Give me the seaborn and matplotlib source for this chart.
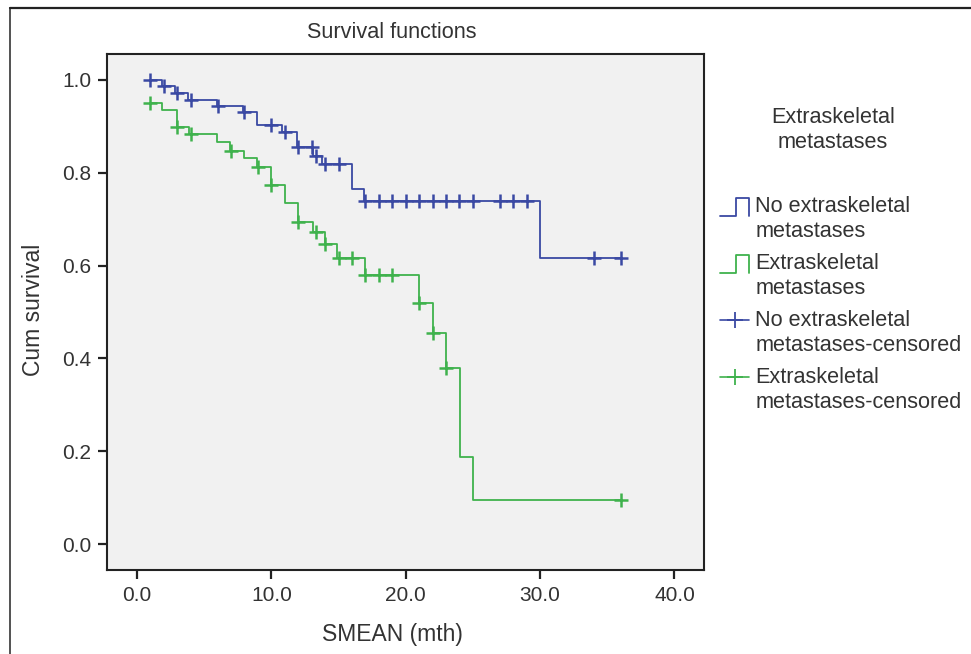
import numpy as np
import pandas as pd
import matplotlib
matplotlib.use("Agg")
import matplotlib.pyplot as plt
from matplotlib.lines import Line2D
from matplotlib.legend_handler import HandlerBase
import seaborn as sns

# ---------------- data ----------------
blue_t = [1, 1.85, 2.85, 3.8, 5.95, 7.9, 8.9, 10.8, 11.9, 13.1, 13.75, 16.0, 16.9, 30.0, 36]
blue_s = [1.0, 0.986, 0.972, 0.957, 0.945, 0.931, 0.903, 0.888, 0.855, 0.837, 0.818, 0.764, 0.740, 0.617, 0.617]
blue_cens = [1, 2, 3, 4, 6, 8, 10, 11, 12, 13, 13.3, 14, 15, 17, 18, 19, 20, 21, 22, 23, 24, 25,
             27, 28, 29, 34, 36]

green_t = [1, 1.85, 3.0, 3.9, 5.97, 6.9, 7.97, 8.9, 10.0, 11.0, 12.0, 13.1, 14.0, 14.9, 17.0,
           21.0, 22.0, 23.0, 24.05, 25.0, 36]
green_s = [0.951, 0.936, 0.898, 0.883, 0.866, 0.848, 0.832, 0.812, 0.774, 0.735, 0.695, 0.672,
           0.646, 0.616, 0.579, 0.520, 0.455, 0.380, 0.188, 0.095, 0.095]
green_cens = [1, 3, 4, 7, 9, 10, 12, 13.3, 14, 15, 16, 17, 18, 19, 21, 22, 23, 36]

group_labels = ["No extraskeletal\nmetastases", "Extraskeletal\nmetastases"]
censor_labels = ["No extraskeletal\nmetastases-censored", "Extraskeletal\nmetastases-censored"]
x_ticks = [0, 10, 20, 30, 40]
y_ticks = [0.0, 0.2, 0.4, 0.6, 0.8, 1.0]

BLUE = "#3a49a3"
GREEN = "#3fb24d"
TXT = "#333333"
FS_TEXT = 15.6
FS_AX = 16.5
FS_TICK = 15
LSP = 1.25

def censor_values(times, surv, cens):
    times = np.asarray(times)
    surv = np.asarray(surv)
    idx = np.searchsorted(times, cens, side="right") - 1
    return surv[np.clip(idx, 0, len(surv) - 1)]

curves = pd.concat([
    pd.DataFrame({"time": blue_t, "surv": blue_s, "group": group_labels[0]}),
    pd.DataFrame({"time": green_t, "surv": green_s, "group": group_labels[1]}),
])
censors = pd.concat([
    pd.DataFrame({"time": blue_cens, "surv": censor_values(blue_t, blue_s, blue_cens),
                  "group": censor_labels[0]}),
    pd.DataFrame({"time": green_cens, "surv": censor_values(green_t, green_s, green_cens),
                  "group": censor_labels[1]}),
])

# ---------------- figure ----------------
sns.set_style("white")
plt.rcParams["font.family"] = ["Liberation Sans", "DejaVu Sans"]

fig = plt.figure(figsize=(9.71, 6.54), dpi=100)
ax = fig.add_axes([107 / 971, 1 - 570 / 654, (704 - 107) / 971, (570 - 54) / 654])
ax.set_facecolor("#f1f1f1")

for g, col in zip(group_labels, [BLUE, GREEN]):
    sub = curves[curves["group"] == g]
    sns.lineplot(data=sub, x="time", y="surv", ax=ax, color=col, lw=1.3,
                 drawstyle="steps-post", estimator=None, sort=False, legend=False)
for g, col in zip(censor_labels, [BLUE, GREEN]):
    sub = censors[censors["group"] == g]
    sns.scatterplot(data=sub, x="time", y="surv", ax=ax, color=col, marker="+",
                    s=90, linewidth=1.8, legend=False, zorder=3)

ax.set_xlim(-2.23, 42.2)
ax.set_ylim(-0.056, 1.056)
ax.set_xticks(x_ticks)
ax.set_xticklabels([f"{v:.1f}" for v in x_ticks])
ax.set_yticks(y_ticks)
ax.set_yticklabels([f"{v:.1f}" for v in y_ticks])
ax.tick_params(axis="both", which="major", bottom=True, left=True, direction="out",
               length=6.5, width=1.6, color="#222222",
               labelsize=FS_TICK, labelcolor=TXT, pad=5)
for sp in ax.spines.values():
    sp.set_color("#222222")
    sp.set_linewidth(1.5)
ax.set_xlabel("")
ax.set_ylabel("")

fig.text(392 / 971, 1 - 32 / 654, "Survival functions", ha="center", va="center",
         fontsize=FS_TEXT, color=TXT)
fig.text(392 / 971, 1 - 634 / 654, "SMEAN (mth)", ha="center", va="center",
         fontsize=FS_AX, color=TXT)
fig.text(33 / 971, 1 - 310 / 654, "Cum survival", ha="center", va="center",
         rotation=90, fontsize=FS_AX, color=TXT)

# outer frame lines
fig.add_artist(Line2D([10 / 971, 10 / 971], [0, 1 - 8 / 654], transform=fig.transFigure,
                      color="#444444", lw=1.3))
fig.add_artist(Line2D([10 / 971, 1], [1 - 8 / 654, 1 - 8 / 654], transform=fig.transFigure,
                      color="#222222", lw=1.6))

SHIFT = FS_TEXT * LSP * 0.5  # move handles up to the first text line


class StepHandler(HandlerBase):
    def create_artists(self, legend, orig_handle, xdescent, ydescent, width, height,
                       fontsize, trans):
        x0, y0 = -xdescent, -ydescent + SHIFT
        lo, hi = y0 - height * 0.15, y0 + height * 1.0
        xs = [x0, x0 + width * 0.55, x0 + width * 0.55, x0 + width, x0 + width]
        ys = [lo, lo, hi, hi, lo]
        return [Line2D(xs, ys, color=orig_handle.get_color(), lw=1.3, transform=trans)]


class CensorHandler(HandlerBase):
    def create_artists(self, legend, orig_handle, xdescent, ydescent, width, height,
                       fontsize, trans):
        x0, y0 = -xdescent, -ydescent + SHIFT + height * 0.45
        ln = Line2D([x0, x0 + width], [y0, y0], color=orig_handle.get_color(), lw=1.2,
                    transform=trans)
        mk = Line2D([x0 + width * 0.5], [y0], color=orig_handle.get_color(), marker="+",
                    markersize=12, mew=1.3, ls="none", transform=trans)
        return [ln, mk]


h_steps = [Line2D([], [], color=BLUE), Line2D([], [], color=GREEN)]
h_cens = [Line2D([], [], color=BLUE), Line2D([], [], color=GREEN)]

fig.text(833 / 971, 1 - 130 / 654, "Extraskeletal\nmetastases", ha="center", va="center",
         fontsize=FS_TEXT, color=TXT, linespacing=LSP)

hmap = {h_steps[0]: StepHandler(), h_steps[1]: StepHandler(),
        h_cens[0]: CensorHandler(), h_cens[1]: CensorHandler()}
leg = fig.legend(h_steps + h_cens, group_labels + censor_labels, handler_map=hmap,
                 loc="upper left", bbox_to_anchor=(720 / 971, 1 - 196 / 654),
                 frameon=False, fontsize=FS_TEXT, handlelength=1.35, handletextpad=0.28,
                 labelspacing=0.5, borderaxespad=0, borderpad=0, labelcolor=TXT)
for t in leg.get_texts():
    t.set_linespacing(LSP)

fig.savefig("out.png", dpi=100, facecolor="white")
